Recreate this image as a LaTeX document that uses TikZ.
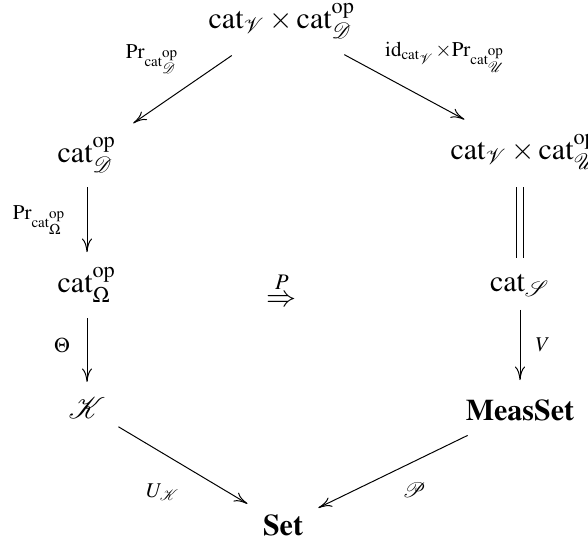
\documentclass[tikz,border=0pt]{standalone}
\usepackage{amsmath}
\usepackage{mathptmx}
\usepackage{tikz}
\usetikzlibrary{arrows.meta}
\newcommand{\mcat}{\mathrm{cat}}
\newcommand{\mop}{\mathrm{op}}
\tikzset{
  obj/.style={inner sep=1pt,font=\normalsize},
  lbl/.style={inner sep=1pt,font=\scriptsize},
  arrow/.style={-{Computer Modern Rightarrow[length=4.5pt,width=3.4pt]},line width=0.33pt},
  equal/.style={double,double distance=1.8pt,line width=0.33pt}
}
\begin{document}
\begin{tikzpicture}[x=0.3333pt,y=-0.3333pt]
  \useasboundingbox (0,0) rectangle (588,540);
  \node[obj] (top) at (282,21) {$\mcat_{\mathcal{V}}\times\mcat_{\mathcal{D}}^{\mop}$};
  \node[obj] (catD) at (87,155) {$\mcat_{\mathcal{D}}^{\mop}$};
  \node[obj, anchor=west] (catVU) at (447,152) {$\mcat_{\mathcal{V}}\times\mcat_{\mathcal{U}}^{\mop}$};
  \node[obj] (catO) at (87,285) {$\mcat_{\Omega}^{\mop}$};
  \node[obj] (catS) at (520,285) {$\mcat_{\mathcal{S}}$};
  \node[obj] (nat) at (282,289) {$\overset{P}{\Rightarrow}$};
  \node[obj] (K) at (87,408) {$\mathcal{K}$};
  \node[obj] (meas) at (520,410) {$\mathbf{MeasSet}$};
  \node[obj] (set) at (283,525) {$\mathbf{Set}$};

  \node[lbl] (prD) at (153,59) {$\mathrm{Pr}_{\mcat_{\mathcal{D}}^{\mop}}$};
  \node[lbl] (idPr) at (446,57) {$\mathrm{id}_{\mcat_{\mathcal{V}}}{\times}\mathrm{Pr}_{\mcat_{\mathcal{U}}^{\mop}}$};
  \node[lbl] (prO) at (40,220) {$\mathrm{Pr}_{\mcat_{\Omega}^{\mop}}$};
  \node[lbl] (thetaLbl) at (62,345) {$\Theta$};
  \node[lbl] (vLbl) at (543,345) {$V$};
  \node[lbl] (uLbl) at (163,492) {$U_{\mathcal{K}}$};
  \node[lbl] (pLbl) at (414,490) {$\mathcal{P}$};

  \draw[arrow, shorten <=20.3pt, shorten >=18.7pt] (top.center) -- (catD.center);
  \draw[arrow, shorten <=23.6pt, shorten >=22.8pt] (top.center) -- (catVU.center);
  \draw[arrow, shorten <=10.7pt, shorten >=11pt] (catD.center) -- (catO.center);
  \draw[equal, shorten <=11.7pt, shorten >=9pt] (catS.center |- catVU.center) -- (catS.center);
  \draw[arrow, shorten <=11pt, shorten >=8.7pt] (catO.center) -- (K.center);
  \draw[arrow, shorten <=8.3pt, shorten >=10pt] (catS.center) -- (meas.center);
  \draw[arrow, shorten <=12.2pt, shorten >=13.8pt] (K.center) -- (set.center);
  \draw[arrow, shorten <=19.4pt, shorten >=13.1pt] (meas.center) -- (set.center);
\end{tikzpicture}
\end{document}
